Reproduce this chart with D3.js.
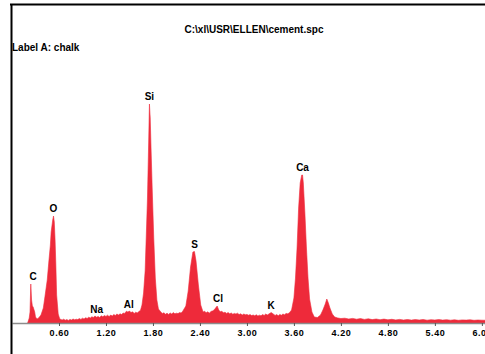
<!DOCTYPE html>
<html>
<head>
<meta charset="utf-8">
<script src="https://cdn.jsdelivr.net/npm/d3@7"></script>
<style>
  body { margin: 0; background: #fff; }
  svg { display: block; }
</style>
</head>
<body>
<svg id="chart" width="485" height="354"></svg>
<script>
// spectrum: energy (keV) and counts
var energies = [0.20,0.22,0.23,0.24,0.25,0.26,0.27,0.29,0.30,0.32,0.34,0.37,0.40,0.42,0.45,0.47,0.49,0.50,0.52,0.53,0.54,0.55,0.56,0.57,0.59,0.61,
  0.64,0.66,0.68,0.70,0.72,0.74,0.76,0.78,0.80,0.82,0.84,0.86,0.88,0.90,0.92,0.94,0.96,0.98,1.00,1.02,1.04,1.06,1.08,1.10,1.12,1.14,1.16,1.18,1.20,1.22,1.24,1.26,1.28,1.30,1.32,1.34,1.36,1.38,1.40,1.42,1.44,1.46,1.48,1.50,1.52,1.54,1.56,1.58,1.60,1.62,1.64,
  1.66,1.68,1.70,1.72,1.73,1.745,1.755,1.765,1.775,1.79,1.81,1.83,1.85,1.87,1.90,1.92,1.94,1.96,1.98,2.00,2.02,2.04,2.06,2.08,2.10,2.12,2.14,2.16,2.18,2.22,2.25,2.28,2.31,2.33,2.35,2.38,2.41,2.44,
  2.46,2.48,2.50,2.52,2.54,2.56,2.58,2.60,2.62,2.64,2.66,2.68,2.70,2.72,2.74,2.76,2.78,2.80,2.82,2.84,2.86,2.88,2.90,2.92,2.94,2.96,2.98,3.00,3.02,3.04,3.06,3.08,3.10,3.12,3.14,3.16,3.18,3.20,3.22,3.24,3.26,3.28,3.31,3.34,3.36,3.38,3.40,3.42,3.44,3.46,3.48,3.50,3.52,3.54,3.57,
  3.60,3.62,3.64,3.66,3.68,3.70,3.71,3.72,3.74,3.76,3.78,3.80,3.83,3.86,3.90,3.94,3.97,4.00,4.02,4.04,4.06,4.09,4.12,4.16,4.20,
  4.25,4.30,4.35,4.40,4.45,4.50,4.55,4.60,4.65,4.70,4.75,4.80,4.85,4.90,4.95,5.00,5.05,5.10,5.15,5.20,5.25,5.30,5.35,5.40,5.45,5.50,5.55,5.60,5.65,5.70,5.75,5.80,5.85,5.90,5.95,6.00,6.10];
var counts = [0,50,110,390,230,170,160,110,60,40,50,80,150,260,430,610,780,910,1030,1070,1010,830,580,280,90,40,
  30,38,28,34,26,36,30,40,32,38,34,44,36,48,40,52,46,58,50,62,56,70,58,66,54,72,62,74,66,78,64,80,70,84,76,90,80,92,84,100,96,118,110,120,104,112,96,108,100,116,124,
  180,300,520,1000,1250,1800,2190,2050,1760,1350,850,450,230,140,110,96,102,88,98,86,100,90,104,92,98,94,104,100,118,170,320,560,710,715,620,380,180,110,
  118,102,112,98,116,120,130,150,170,130,112,118,102,108,96,104,92,100,88,96,90,98,84,92,80,90,82,86,78,84,74,80,72,82,70,78,72,84,76,90,80,90,105,88,76,84,72,86,78,90,82,96,92,100,130,
  250,450,750,1150,1400,1480,1480,1400,1100,750,450,240,110,60,55,80,130,190,240,200,150,90,60,50,45,
  48,40,46,38,44,36,42,34,40,33,39,32,37,31,36,30,35,29,34,30,35,28,33,30,34,29,33,28,32,27,31,29,32,27,30,28,27];

var peakNames = ["C","O","Na","Al","Si","S","Cl","K","Ca"];
var peakEnergies = [0.27,0.53,1.08,1.49,1.755,2.33,2.63,3.31,3.71];
var peakCounts = [390,1070,60,115,2190,715,170,105,1480];

var tickValues = [0.6,1.2,1.8,2.4,3.0,3.6,4.2,4.8,5.4,6.0];

var title = "C:\\xl\\USR\\ELLEN\\cement.spc";
var label = "Label A: chalk";

var svg = d3.select("#chart");

var x = d3.scaleLinear().domain([0, 6.04]).range([12, 485]);
var y = d3.scaleLinear().domain([0, 3000]).range([323, 23]);

var data = energies.map(function (e, i) { return { e: e, c: counts[i] }; });

// spectrum fill
var area = d3.area()
  .x(function (d) { return x(d.e); })
  .y0(y(0))
  .y1(function (d) { return y(d.c); });

svg.append("path")
  .datum(data)
  .attr("d", area)
  .style("fill", "#ee2a3a")
  .style("stroke", "#ee2a3a")
  .style("stroke-width", 0.6);

// axis
var axis = svg.append("g")
  .attr("transform", "translate(0," + y(0) + ")")
  .call(d3.axisBottom(x).tickValues(tickValues).tickFormat(d3.format(".2f")).tickSize(3).tickSizeOuter(0).tickPadding(4));

axis.select(".domain").style("stroke", "#8c8c8c").style("stroke-width", 1.5);
axis.selectAll(".tick line").style("stroke", "#555");
axis.selectAll(".tick text")
  .style("font-family", "'Liberation Sans', Arial, sans-serif")
  .style("font-size", "9px")
  .style("font-weight", "bold")
  .style("letter-spacing", "0.6px")
  .style("fill", "#000");

// peak labels
svg.selectAll(".peak")
  .data(peakNames)
  .enter().append("text")
  .attr("class", "peak")
  .attr("x", function (d, i) { return x(peakEnergies[i]); })
  .attr("y", function (d, i) { return y(peakCounts[i]) - 4; })
  .attr("text-anchor", "middle")
  .style("font-family", "'Liberation Sans', Arial, sans-serif")
  .style("font-size", "10px")
  .style("font-weight", "bold")
  .style("fill", "#000")
  .text(function (d) { return d; });

// frame
svg.append("line").attr("x1", 10).attr("x2", 485).attr("y1", 4.5).attr("y2", 4.5)
  .style("stroke", "#000").style("stroke-width", 2);
svg.append("line").attr("x1", 11.5).attr("x2", 11.5).attr("y1", 4).attr("y2", 354)
  .style("stroke", "#000").style("stroke-width", 2);

svg.append("text")
  .attr("x", 254).attr("y", 33)
  .attr("text-anchor", "middle")
  .style("font-family", "'Liberation Sans', Arial, sans-serif")
  .style("font-size", "10px")
  .style("font-weight", "bold")
  .style("fill", "#000")
  .text(title);

svg.append("text")
  .attr("x", 12).attr("y", 51)
  .style("font-family", "'Liberation Sans', Arial, sans-serif")
  .style("font-size", "10px")
  .style("font-weight", "bold")
  .style("fill", "#000")
  .text(label);
</script>
</body>
</html>
